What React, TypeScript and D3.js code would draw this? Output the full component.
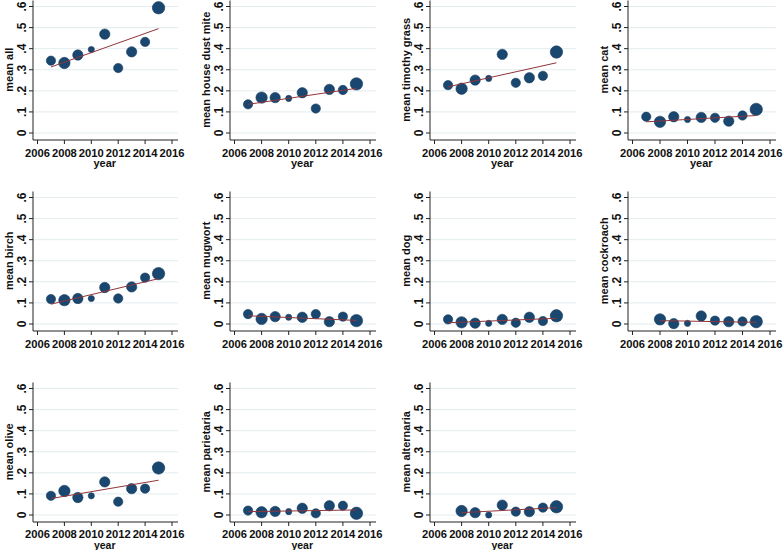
import React from "react";
import * as d3 from "d3";

const years = [2007, 2008, 2009, 2010, 2011, 2012, 2013, 2014, 2015];
const sampleN = [81, 121, 100, 36, 100, 81, 100, 81, 144];

const titles = [
  "mean all", "mean house dust mite", "mean timothy grass", "mean cat",
  "mean birch", "mean mugwort", "mean dog", "mean cockroach",
  "mean olive", "mean parietaria", "mean alternaria",
];

const meanAll = [0.343, 0.332, 0.37, 0.396, 0.469, 0.308, 0.385, 0.432, 0.594];
const meanHouseDustMite = [0.136, 0.168, 0.168, 0.164, 0.191, 0.116, 0.207, 0.204, 0.233];
const meanTimothyGrass = [0.227, 0.21, 0.251, 0.259, 0.373, 0.238, 0.262, 0.271, 0.384];
const meanCat = [0.077, 0.053, 0.077, 0.064, 0.074, 0.072, 0.056, 0.083, 0.112];
const meanBirch = [0.118, 0.113, 0.121, 0.121, 0.173, 0.121, 0.176, 0.22, 0.239];
const meanMugwort = [0.047, 0.024, 0.035, 0.032, 0.032, 0.047, 0.011, 0.035, 0.016];
const meanDog = [0.022, 0.008, 0.004, 0.003, 0.022, 0.006, 0.032, 0.014, 0.039];
const meanCockroach = [null, 0.022, 0.002, 0.003, 0.038, 0.016, 0.011, 0.012, 0.011];
const meanOlive = [0.091, 0.114, 0.083, 0.091, 0.157, 0.063, 0.125, 0.125, 0.223];
const meanParietaria = [0.021, 0.013, 0.017, 0.016, 0.032, 0.008, 0.044, 0.044, 0.008];
const meanAlternaria = [null, 0.019, 0.011, 0.0, 0.047, 0.016, 0.016, 0.035, 0.039];

// linear fit endpoints [start year, value, end year, value]
const fitAll = [2007, 0.313, 2015, 0.495];
const fitHouseDustMite = [2007, 0.136, 2015, 0.212];
const fitTimothyGrass = [2007, 0.219, 2015, 0.333];
const fitCat = [2007, 0.053, 2015, 0.083];
const fitBirch = [2007, 0.094, 2015, 0.215];
const fitMugwort = [2007, 0.039, 2015, 0.017];
const fitDog = [2007, 0.006, 2015, 0.027];
const fitCockroach = [2008, 0.016, 2015, 0.008];
const fitOlive = [2007, 0.078, 2015, 0.165];
const fitParietaria = [2007, 0.016, 2015, 0.024];
const fitAlternaria = [2008, 0.011, 2015, 0.035];

const seriesList = [
  meanAll, meanHouseDustMite, meanTimothyGrass, meanCat,
  meanBirch, meanMugwort, meanDog, meanCockroach,
  meanOlive, meanParietaria, meanAlternaria,
];
const fitList = [
  fitAll, fitHouseDustMite, fitTimothyGrass, fitCat,
  fitBirch, fitMugwort, fitDog, fitCockroach,
  fitOlive, fitParietaria, fitAlternaria,
];

const yTicks = [0, 0.1, 0.2, 0.3, 0.4, 0.5, 0.6];
const yTickLabels = ["0", ".1", ".2", ".3", ".4", ".5", ".6"];
const xTicks = [2006, 2008, 2010, 2012, 2014, 2016];

// layout
const colAxisX = [33, 230, 430, 628];
const colX2016 = [172, 370, 570, 770];
const rowZeroY = [133, 324, 515];
const ySpan = 126.5;

const FONT = "'Liberation Sans', Arial, sans-serif";
const MARKER = "#1a476f";
const LINE = "#90353b";
const GRID = "#e3ecef";

const rScale = d3.scaleSqrt().domain([0, 144]).range([0, 6.2]);

function Panel({ idx }: { idx: number }) {
  const col = idx % 4;
  const row = Math.floor(idx / 4);
  const axisX = colAxisX[col];
  const zero = rowZeroY[row];
  const x = d3.scaleLinear().domain([2006, 2016]).range([axisX + 4.5, colX2016[col]]);
  const y = d3.scaleLinear().domain([0, 0.6]).range([zero, zero - ySpan]);
  const top = y(0.6) - 6;
  const bottom = zero + 7;
  const right = colX2016[col] + 6;
  const values = seriesList[idx];
  const fit = fitList[idx];
  const clipId = `clip-row-${idx}`;
  const clipBottom = row === 1 ? 349 : 550;
  const lastRow = row === 2;
  const tickLabelY = bottom + (lastRow ? 15.5 : 17);
  const yearY = lastRow ? 549 : bottom + 27;

  return (
    <g clipPath={`url(#${clipId})`}>
      <defs>
        <clipPath id={clipId}>
          <rect x={col * 196 - 10} y={0} width={220} height={clipBottom} />
        </clipPath>
      </defs>
      {yTicks.map((t) => (
        <line key={`g${t}`} x1={axisX} x2={right} y1={y(t)} y2={y(t)} stroke={GRID} strokeWidth={1} />
      ))}
      <line x1={axisX} x2={axisX} y1={top} y2={bottom} stroke="#222" strokeWidth={1} />
      <line x1={axisX} x2={right} y1={bottom} y2={bottom} stroke="#222" strokeWidth={1} />
      {yTicks.map((t, i) => (
        <g key={`yt${t}`}>
          <line x1={axisX - 4} x2={axisX} y1={y(t)} y2={y(t)} stroke="#222" strokeWidth={1} />
          <text
            transform={`translate(${axisX - 7},${y(t)}) rotate(-90)`}
            textAnchor="middle"
            fontFamily={FONT}
            fontWeight="bold"
            fontSize={12}
            fill="#111"
          >
            {yTickLabels[i]}
          </text>
        </g>
      ))}
      {xTicks.map((t) => (
        <g key={`xt${t}`}>
          <line x1={x(t)} x2={x(t)} y1={bottom} y2={bottom + 4} stroke="#222" strokeWidth={1} />
          <text x={x(t)} y={tickLabelY} textAnchor="middle" fontFamily={FONT} fontWeight="bold" fontSize={11.2} fill="#111">
            {t}
          </text>
        </g>
      ))}
      <text
        transform={`translate(${axisX - 20},${(y(0) + y(0.6)) / 2}) rotate(-90)`}
        textAnchor="middle"
        fontFamily={FONT}
        fontWeight="bold"
        fontSize={11}
        fill="#111"
      >
        {titles[idx]}
      </text>
      <text x={x(2011)} y={yearY} textAnchor="middle" fontFamily={FONT} fontWeight="bold" fontSize={lastRow ? 10.5 : 11} fill="#111">
        year
      </text>
      {years.map((yr, i) =>
        values[i] == null ? null : (
          <circle key={yr} cx={x(yr)} cy={y(values[i] as number)} r={rScale(sampleN[i])} fill={MARKER} stroke="#163c5e" strokeWidth={0.6} />
        )
      )}
      <line x1={x(fit[0])} y1={y(fit[1])} x2={x(fit[2])} y2={y(fit[3])} stroke={LINE} strokeWidth={1} />
    </g>
  );
}

export default function App() {
  return (
    <svg width={784} height={550} style={{ position: "absolute", left: 0, top: 0, background: "#fff" }}>
      <rect x={0} y={0} width={784} height={550} fill="#fff" />
      {titles.map((_, i) => (
        <Panel key={i} idx={i} />
      ))}
    </svg>
  );
}
